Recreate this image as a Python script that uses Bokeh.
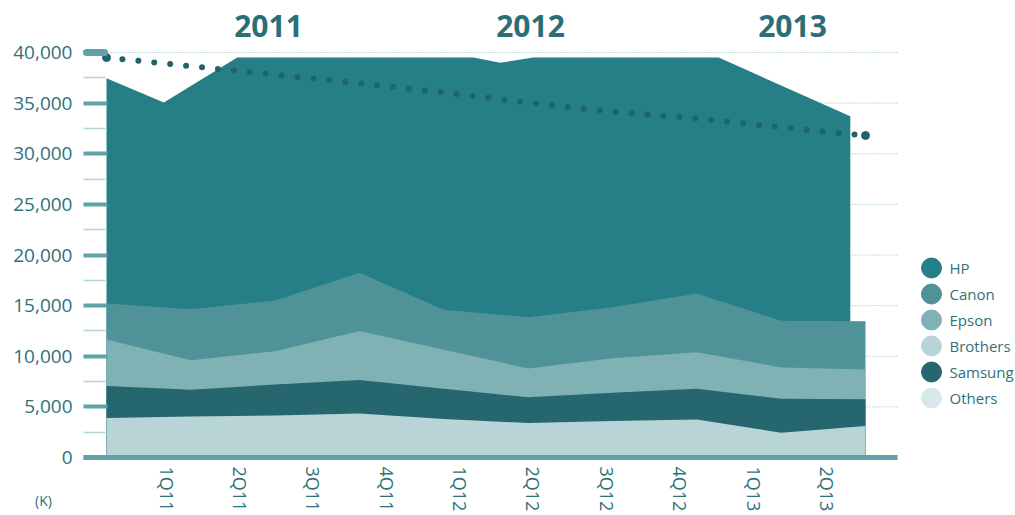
import numpy as np
from bokeh.plotting import figure
from bokeh.models import Range1d, FixedTicker, LinearAxis, NumeralTickFormatter
from bokeh.core.properties import value
from bokeh.embed import file_html
from bokeh.resources import INLINE

# ---------------- data ----------------
quarters = list(range(10))                      # data points (quarters)
brothers = [3900, 4050, 4150, 4350, 3800, 3400, 3600, 3750, 2450, 3100]
samsung  = [3150, 2650, 3050, 3300, 3000, 2550, 2800, 3050, 3350, 2650]
epson    = [4600, 2900, 3300, 4850, 3850, 2850, 3400, 3600, 3100, 2950]
canon    = [3550, 5050, 5000, 5750, 3950, 5050, 5050, 5800, 4600, 4750]
hp_pos   = [0, 0.68, 1.55, 4.35, 4.67, 5.06, 7.26, 8.82]
hp_total = [37450, 35050, 39500, 39500, 39000, 39500, 39500, 33700]
trend    = [39500, 38650, 37800, 36950, 36050, 35050, 34150, 33500, 32600, 31800]
tick_labels = ["1Q11", "2Q11", "3Q11", "4Q11", "1Q12", "2Q12", "3Q12", "4Q12", "1Q13", "2Q13"]
years = ["2011", "2012", "2013"]
legend_names = ["HP", "Canon", "Epson", "Brothers", "Samsung", "Others"]
y_ticks = [0, 5000, 10000, 15000, 20000, 25000, 30000, 35000, 40000]
unit_label = "(K)"

# ---------------- style / layout ----------------
C_HP, C_CANON, C_EPSON, C_BROTHERS, C_SAMSUNG, C_OTHERS = (
    "#267e86", "#4f9399", "#80b1b5", "#b8d4d7", "#25666f", "#d6e8ea")
legend_colors = [C_HP, C_CANON, C_EPSON, C_BROTHERS, C_SAMSUNG, C_OTHERS]
AXIS_C = "#5fa3a8"
TEXT_C = "#2f7179"
YEAR_C = "#2a6e77"
FONT = "Open Sans"

W, H = 1015, 515
X0_PX, DX_PX = 106.0, 84.33        # page px of first quarter, px per quarter
Y0_PX, PX_PER_UNIT = 457.0, 405.0 / 40000.0
AX_LEFT, AX_RIGHT, GRID_LEFT = 83, 897, 107


def px_to_x(px):
    return (px - X0_PX) / DX_PX


def py_to_v(py):
    return (Y0_PX - py) / PX_PER_UNIT


TICK0, TICK_STEP = px_to_x(166), 73.4 / DX_PX
tick_pos = [round(TICK0 + j * TICK_STEP, 4) for j in range(len(tick_labels))]
year_pos = [px_to_x(268), px_to_x(530), px_to_x(792)]
YEAR_Y = py_to_v(25)

p = figure(width=W, height=H, output_backend="svg", toolbar_location=None,
           x_range=Range1d(px_to_x(0), px_to_x(W)),
           y_range=Range1d(py_to_v(H), py_to_v(0)),
           min_border=0, x_axis_location=None, y_axis_location=None)
p.outline_line_color = None
p.grid.visible = False
p.background_fill_color = "white"

# dotted grid lines (drawn first, under the areas)
gy = y_ticks[1:]
p.segment(x0=[px_to_x(GRID_LEFT)] * len(gy), x1=[px_to_x(AX_RIGHT)] * len(gy),
          y0=gy, y1=gy, line_color="#7fb8bd", line_width=1, line_dash="1 2")

# areas (painter's order)
p.varea(x=hp_pos, y1=0, y2=hp_total, fill_color=C_HP)
cum = np.cumsum(np.array([brothers, samsung, epson, canon]), axis=0)
for layer, col in zip([3, 2, 1, 0], [C_CANON, C_EPSON, C_SAMSUNG, C_BROTHERS]):
    p.varea(x=quarters, y1=0, y2=cum[layer], fill_color=col)

# trend dotted line
p.line(quarters, trend, line_width=6, line_dash="0 16", line_cap="round",
       line_color="#22636b")
p.scatter([quarters[0], quarters[-1]], [trend[0], trend[-1]], size=8,
          color="#22636b")

# year labels
p.text(x=year_pos, y=[YEAR_Y] * len(years), text=years,
       text_font=value(FONT), text_font_style="bold", text_font_size="30px",
       text_align="center", text_baseline="middle", text_color=YEAR_C)

# unit label
p.text(x=[px_to_x(43)], y=[py_to_v(500)], text=[unit_label],
       text_font=value(FONT), text_font_size="14px", text_align="center",
       text_baseline="middle", text_color=TEXT_C)

# y axis
yax = LinearAxis(
    fixed_location=px_to_x(AX_LEFT),
    ticker=FixedTicker(ticks=y_ticks, minor_ticks=list(range(2500, 40000, 5000))),
    formatter=NumeralTickFormatter(format="0,0"),
    major_tick_in=24, major_tick_out=0, minor_tick_in=22, minor_tick_out=0,
    major_tick_line_color=AXIS_C, major_tick_line_width=4,
    minor_tick_line_color="#b3d3d6", minor_tick_line_width=1.5,
    axis_line_color=None, major_label_standoff=11,
    major_label_text_font=FONT, major_label_text_font_size="19px",
    major_label_text_color=TEXT_C)
p.add_layout(yax, "left")

# pill at 40,000
pill = LinearAxis(fixed_location=px_to_x(86), ticker=FixedTicker(ticks=[40000]),
                  major_tick_in=18, major_tick_out=0, major_tick_line_width=7,
                  major_tick_line_cap="round", major_tick_line_color=AXIS_C,
                  axis_line_color=None, minor_tick_line_color=None,
                  major_label_overrides={40000: ""})
p.add_layout(pill, "left")

# x axis (baseline + vertical quarter labels)
xax = LinearAxis(
    fixed_location=0, bounds=(px_to_x(AX_LEFT), px_to_x(AX_RIGHT)),
    ticker=FixedTicker(ticks=tick_pos),
    major_label_overrides={t: l for t, l in zip(tick_pos, tick_labels)},
    major_label_orientation="vertical",
    axis_line_color=AXIS_C, axis_line_width=5,
    major_tick_in=0, major_tick_out=0, major_tick_line_color=None,
    minor_tick_line_color=None, major_label_standoff=9,
    major_label_text_font=FONT, major_label_text_font_size="18px",
    major_label_text_color=TEXT_C)
p.add_layout(xax, "below")

# legend
LEG_X, LEG_TX, LEG_Y0, LEG_DY = 931, 949, 267.5, 26
ly = [py_to_v(LEG_Y0 + k * LEG_DY) for k in range(len(legend_names))]
p.scatter(x=[px_to_x(LEG_X)] * len(ly), y=ly, size=20, color=legend_colors)
p.text(x=[px_to_x(LEG_TX)] * len(ly), y=ly, text=legend_names, text_font=value(FONT),
       text_font_size="15px", text_align="left", text_baseline="middle",
       text_color=TEXT_C)

open("out.html", "w").write(file_html(p, INLINE))
